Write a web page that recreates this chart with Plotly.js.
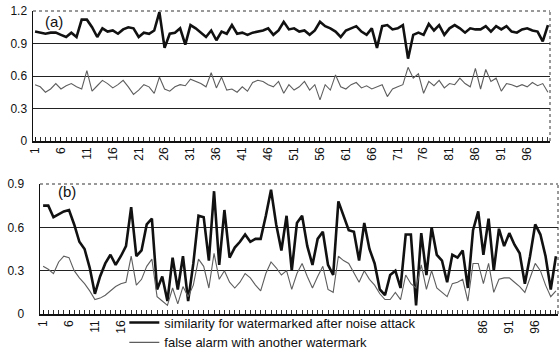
<!DOCTYPE html>
<html>
<head>
<meta charset="utf-8">
<script src="https://cdn.plot.ly/plotly-3.0.1.min.js"></script>
<style>html,body{margin:0;padding:0;background:#fff;}#chart{width:560px;height:351px;}</style>
</head>
<body>
<div id="chart"></div>
<script>
// Panel (a): similarity values (index 1..100)
const simA = [1.01,1.00,0.99,1.00,1.00,0.98,0.96,1.00,0.96,1.12,
1.12,1.05,0.96,1.04,1.01,1.02,0.99,1.03,1.05,1.04,
0.96,1.00,0.99,1.02,1.19,0.86,0.99,1.00,1.04,0.89,
1.07,1.04,1.00,0.96,1.02,0.93,1.01,0.99,1.07,0.99,
1.00,0.98,1.00,1.01,1.02,1.04,0.98,1.02,1.10,1.03,
1.04,1.01,1.02,0.98,1.02,1.10,1.06,1.04,1.01,0.96,
1.02,1.04,1.06,1.01,0.98,1.04,0.86,1.06,1.07,1.03,
1.04,1.07,0.76,0.98,1.00,0.98,1.08,1.02,1.07,0.98,
1.04,1.07,1.04,1.00,1.04,1.03,1.03,1.06,1.01,1.06,
1.03,1.06,1.01,1.00,1.03,1.04,1.02,1.01,0.92,1.07];
const falseA = [0.52,0.50,0.45,0.48,0.53,0.48,0.51,0.53,0.50,0.48,
0.65,0.46,0.51,0.56,0.53,0.49,0.52,0.56,0.50,0.43,
0.47,0.52,0.50,0.44,0.59,0.48,0.46,0.50,0.52,0.51,
0.57,0.55,0.53,0.50,0.63,0.49,0.59,0.47,0.48,0.45,
0.50,0.46,0.54,0.56,0.55,0.52,0.50,0.55,0.44,0.52,
0.47,0.50,0.55,0.47,0.52,0.38,0.52,0.47,0.61,0.50,
0.48,0.52,0.54,0.49,0.51,0.48,0.50,0.52,0.41,0.48,
0.50,0.52,0.68,0.58,0.62,0.44,0.55,0.51,0.56,0.49,
0.53,0.52,0.58,0.53,0.50,0.67,0.48,0.66,0.55,0.58,
0.46,0.53,0.52,0.50,0.52,0.50,0.54,0.51,0.53,0.45];
// Panel (b)
const simB = [0.75,0.75,0.67,0.69,0.71,0.72,0.62,0.50,0.45,0.32,
0.14,0.26,0.35,0.41,0.34,0.40,0.47,0.74,0.40,0.44,
0.62,0.66,0.17,0.26,0.09,0.39,0.17,0.40,0.09,0.35,
0.68,0.67,0.37,0.85,0.34,0.72,0.39,0.46,0.50,0.55,
0.50,0.52,0.52,0.68,0.86,0.62,0.44,0.68,0.30,0.63,
0.68,0.47,0.34,0.52,0.57,0.34,0.27,0.78,0.68,0.58,
0.57,0.37,0.63,0.45,0.35,0.17,0.13,0.27,0.30,0.18,
0.55,0.55,0.06,0.56,0.27,0.60,0.41,0.37,0.22,0.41,
0.39,0.44,0.18,0.58,0.71,0.41,0.66,0.30,0.59,0.47,
0.56,0.48,0.42,0.21,0.40,0.62,0.55,0.40,0.17,0.40];
const falseB = [0.33,0.31,0.28,0.36,0.40,0.39,0.30,0.25,0.21,0.16,
0.10,0.11,0.13,0.16,0.19,0.21,0.22,0.40,0.20,0.24,
0.33,0.38,0.12,0.09,0.06,0.18,0.07,0.19,0.12,0.20,
0.38,0.33,0.18,0.42,0.24,0.30,0.22,0.18,0.22,0.28,
0.25,0.20,0.16,0.28,0.36,0.32,0.27,0.30,0.17,0.28,
0.35,0.26,0.18,0.26,0.33,0.17,0.15,0.40,0.37,0.35,
0.28,0.22,0.30,0.24,0.20,0.14,0.10,0.10,0.15,0.10,
0.27,0.21,0.18,0.34,0.17,0.30,0.18,0.15,0.12,0.21,
0.22,0.24,0.09,0.35,0.35,0.21,0.35,0.15,0.24,0.25,
0.25,0.22,0.19,0.15,0.25,0.35,0.30,0.20,0.12,0.16];
const idx = simA.map((_, i) => i + 1);
const tickA = [1,6,11,16,21,26,31,36,41,46,51,56,61,66,71,76,81,86,91,96];
const tickB = [1,6,11,16,86,91,96];
const legendNames = ["similarity for watermarked after noise attack", "false alarm with another watermark"];

const blackLine = {color: '#111', width: 2.6};
const grayLine = {color: '#5e5e5e', width: 1.1};

const traces = [
  {x: idx, y: simA, xaxis: 'x', yaxis: 'y', mode: 'lines', line: blackLine, name: legendNames[0], showlegend: true, legendgroup: 's'},
  {x: idx, y: falseA, xaxis: 'x', yaxis: 'y', mode: 'lines', line: grayLine, name: legendNames[1], showlegend: true, legendgroup: 'f'},
  {x: idx, y: simB, xaxis: 'x2', yaxis: 'y2', mode: 'lines', line: blackLine, name: legendNames[0], showlegend: false, legendgroup: 's'},
  {x: idx, y: falseB, xaxis: 'x2', yaxis: 'y2', mode: 'lines', line: grayLine, name: legendNames[1], showlegend: false, legendgroup: 'f'}
];

const font = {family: 'Liberation Sans, Arial, sans-serif', size: 12, color: '#111'};
const xCommon = {
  showgrid: false, zeroline: false, showline: true, linecolor: '#111', linewidth: 1.5,
  ticks: 'inside', ticklen: 4, tickcolor: '#111', tickangle: -90, tickmode: 'array',
  minor: {dtick: 1, ticks: 'inside', ticklen: 4, tickcolor: '#333', showgrid: false},
  tickfont: {size: 12}, automargin: false
};
const yCommon = {
  zeroline: false, showline: true, linecolor: '#111', linewidth: 1.5, ticks: '',
  showgrid: true, gridcolor: '#222', gridwidth: 1, tickfont: {size: 12}, automargin: false
};

const layout = {
  width: 560, height: 351,
  margin: {l: 0, r: 0, t: 0, b: 0, autoexpand: false},
  paper_bgcolor: '#fff', plot_bgcolor: '#fff',
  font: font,
  showlegend: true,
  legend: {x: 0.222, y: 0.124, xanchor: 'left', yanchor: 'top', bgcolor: 'rgba(255,255,255,0)',
           font: {size: 13}, tracegroupgap: 0, itemwidth: 30},
  xaxis: Object.assign({}, xCommon, {domain: [33/560, 550/560], range: [0.6, 100.4], tickvals: tickA, anchor: 'y'}),
  yaxis: Object.assign({}, yCommon, {domain: [1 - 141/351, 1 - 11/351], range: [0, 1.2], tickvals: [0, 0.3, 0.6, 0.9, 1.2], ticktext: ['0','0.3','0.6','0.9','1.2'], anchor: 'x', ticklabelstandoff: 2}),
  xaxis2: Object.assign({}, xCommon, {domain: [40/560, 558/560], range: [0.4, 100.4], tickvals: tickB, anchor: 'y2'}),
  yaxis2: Object.assign({}, yCommon, {domain: [1 - 314/351, 1 - 184/351], range: [0, 0.9], tickvals: [0, 0.3, 0.6, 0.9], ticktext: ['0','0.3','0.6','0.9'], anchor: 'x2', ticklabelstandoff: 12}),
  shapes: [
    {type: 'line', xref: 'x domain', yref: 'y domain', x0: 0, x1: 1, y0: 1, y1: 1, line: {color: '#333', width: 1, dash: 'dot'}},
    {type: 'line', xref: 'x domain', yref: 'y domain', x0: 1, x1: 1, y0: 0, y1: 1, line: {color: '#333', width: 1, dash: 'dot'}},
    {type: 'line', xref: 'x2 domain', yref: 'y2 domain', x0: 0, x1: 1, y0: 1, y1: 1, line: {color: '#333', width: 1, dash: 'dot'}},
    {type: 'line', xref: 'x2 domain', yref: 'y2 domain', x0: 1, x1: 1, y0: 0, y1: 1, line: {color: '#333', width: 1, dash: 'dot'}}
  ],
  annotations: [
    {text: '(a)', xref: 'x domain', yref: 'y domain', x: 0.02, y: 1.0, xanchor: 'left', yanchor: 'top', showarrow: false, font: {size: 15, color: '#111'}},
    {text: '(b)', xref: 'x2 domain', yref: 'y2 domain', x: 0.03, y: 1.02, xanchor: 'left', yanchor: 'top', showarrow: false, font: {size: 15, color: '#111'}}
  ]
};

Plotly.newPlot('chart', traces, layout, {displayModeBar: false, staticPlot: true});
</script>
</body>
</html>
